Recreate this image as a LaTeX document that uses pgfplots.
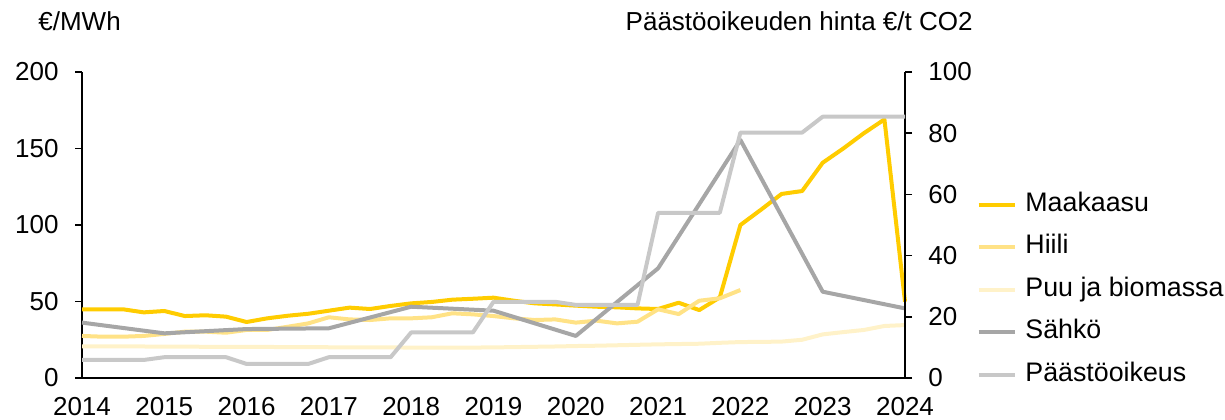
\documentclass[border=0pt]{standalone}
\usepackage{fontspec}
\setmainfont{Liberation Sans}
\usepackage{pgfplots}
\pgfplotsset{compat=1.18}
\definecolor{gas}{HTML}{FFCC00}
\definecolor{coal}{HTML}{FFE286}
\definecolor{wood}{HTML}{FFF2C9}
\definecolor{elec}{HTML}{A6A6A6}
\definecolor{co2}{HTML}{C8C8C8}
\pgfplotsset{
  myaxis/.style={
    at={(0pt,0pt)}, anchor=south west,
    scale only axis, width=411.5pt, height=153pt,
    xmin=2014, xmax=2024,
    tick align=outside, major tick length=3.5pt,
    axis line style={line width=0.8pt, black, -},
    every tick/.style={line width=0.8pt, black},
    /pgf/number format/assume math mode=true,
    /pgf/number format/1000 sep={},
    tick label style={font=\fontsize{13}{15.6}\selectfont},
    clip=false,
  },
  serie/.style={line width=2pt, line join=round},
}
\begin{document}
\begin{tikzpicture}[font=\fontsize{13}{15.6}\selectfont]
\useasboundingbox (-41pt,-20.5pt) rectangle (571.5pt,189pt);
\begin{axis}[myaxis,
  ymin=0, ymax=200,
  axis x line*=bottom, axis y line*=left,
  xtick={2014,2015,...,2024}, ytick={0,50,...,200},
  xtick style={draw=none},
  xticklabel style={anchor=north, inner sep=0pt, yshift=-6pt},
  yticklabel style={anchor=east, inner sep=0pt, xshift=-8pt},
  legend style={draw=none, fill=none, at={(axis description cs:1.087,0.288)}, anchor=west,
    inner sep=0pt, outer sep=0pt, row sep=8.8pt, column sep=4.4pt,
    nodes={inner sep=0pt, text height=9.5pt, text depth=3pt},
    font=\fontsize{13.4}{16}\selectfont},
  legend cell align=left,
  legend image code/.code={\draw[#1] (0pt,0pt) -- (18pt,0pt);},
]
\addplot[serie, gas] coordinates {
(2014.00,44.9) (2014.25,44.9) (2014.50,44.9) (2014.75,42.9)
(2015.00,43.8) (2015.25,40.5) (2015.50,41.0) (2015.75,40.1)
(2016.00,36.6) (2016.25,39.0) (2016.50,40.7) (2016.75,42.0)
(2017.00,44.0) (2017.25,46.0) (2017.50,45.1) (2017.75,47.1)
(2018.00,48.8) (2018.25,49.7) (2018.50,51.2) (2018.75,51.8)
(2019.00,52.5) (2019.25,50.5) (2019.50,48.8) (2019.75,48.1)
(2020.00,47.3) (2020.25,46.6) (2020.50,46.2) (2020.75,45.5)
(2021.00,45.1) (2021.25,49.2) (2021.50,44.4) (2021.75,52.7)
(2022.00,100.0) (2022.25,110.0) (2022.50,120.3) (2022.75,122.2)
(2023.00,140.7) (2023.25,150.0) (2023.50,160.0) (2023.75,169.0)
(2024.00,49.9)
};
\addlegendentry{Maakaasu}
\addplot[serie, coal] coordinates {
(2014.00,27.5) (2014.25,27.0) (2014.50,27.0) (2014.75,27.5)
(2015.00,28.8) (2015.25,30.3) (2015.50,30.3) (2015.75,29.6)
(2016.00,31.4) (2016.25,31.4) (2016.50,33.5) (2016.75,35.7)
(2017.00,39.7) (2017.25,38.3) (2017.50,37.9) (2017.75,39.0)
(2018.00,39.0) (2018.25,39.7) (2018.50,42.3) (2018.75,41.6)
(2019.00,40.5) (2019.25,39.0) (2019.50,37.9) (2019.75,38.3)
(2020.00,36.2) (2020.25,37.5) (2020.50,35.7) (2020.75,36.8)
(2021.00,44.9) (2021.25,41.8) (2021.50,50.5) (2021.75,52.1)
(2022.00,57.5)
};
\addlegendentry{Hiili}
\addplot[serie, wood] coordinates {
(2014.00,20.6) (2014.25,20.6) (2014.50,20.6) (2014.75,20.6)
(2015.00,20.5) (2015.25,20.5) (2015.50,20.4) (2015.75,20.4)
(2016.00,20.3) (2016.25,20.3) (2016.50,20.2) (2016.75,20.2)
(2017.00,20.1) (2017.25,20.1) (2017.50,20.0) (2017.75,20.0)
(2018.00,19.9) (2018.25,19.9) (2018.50,19.8) (2018.75,19.9)
(2019.00,20.0) (2019.25,20.2) (2019.50,20.4) (2019.75,20.6)
(2020.00,20.9) (2020.25,21.1) (2020.50,21.4) (2020.75,21.7)
(2021.00,22.0) (2021.25,22.2) (2021.50,22.4) (2021.75,23.0)
(2022.00,23.5) (2022.25,23.6) (2022.50,23.8) (2022.75,25.0)
(2023.00,28.5) (2023.25,30.0) (2023.50,31.4) (2023.75,34.0)
(2024.00,34.6)
};
\addlegendentry{Puu ja biomassa}
\addplot[serie, elec] coordinates {
(2014,36.2) (2015,29.2) (2016,32.0) (2017,32.5) (2018,46.6) (2019,44.0)
(2020,27.5) (2021,71.7) (2022,155.6) (2023,56.4) (2024,45.5)
};
\addlegendentry{Sähkö}
\addlegendimage{serie, co2}
\addlegendentry{Päästöoikeus}
\end{axis}
\begin{axis}[myaxis,
  ymin=0, ymax=100,
  axis x line=none, axis y line*=right,
  ytick={0,20,...,100},
  yticklabel style={anchor=west, inner sep=0pt, xshift=8pt},
]
\addplot[serie, co2] coordinates {
(2014.00,5.9) (2014.25,5.9) (2014.50,5.9) (2014.75,5.9)
(2015.00,6.8) (2015.25,6.8) (2015.50,6.8) (2015.75,6.8)
(2016.00,4.6) (2016.25,4.6) (2016.50,4.6) (2016.75,4.6)
(2017.00,6.8) (2017.25,6.8) (2017.50,6.8) (2017.75,6.8)
(2018.00,14.9) (2018.25,14.9) (2018.50,14.9) (2018.75,14.9)
(2019.00,24.9) (2019.25,24.9) (2019.50,24.9) (2019.75,24.9)
(2020.00,23.9) (2020.25,23.9) (2020.50,23.9) (2020.75,23.9)
(2021.00,54.0) (2021.25,54.0) (2021.50,54.0) (2021.75,54.0)
(2022.00,80.2) (2022.25,80.2) (2022.50,80.2) (2022.75,80.2)
(2023.00,85.4) (2023.25,85.4) (2023.50,85.4) (2023.75,85.4)
(2024.00,85.4)
};
\end{axis}
\node[anchor=base west, inner sep=0pt] at (-22pt,173.6pt) {€/MWh};
\node[anchor=base east, inner sep=0pt] at (445.5pt,173.6pt) {Päästöoikeuden hinta €/t CO2};
\end{tikzpicture}
\end{document}
